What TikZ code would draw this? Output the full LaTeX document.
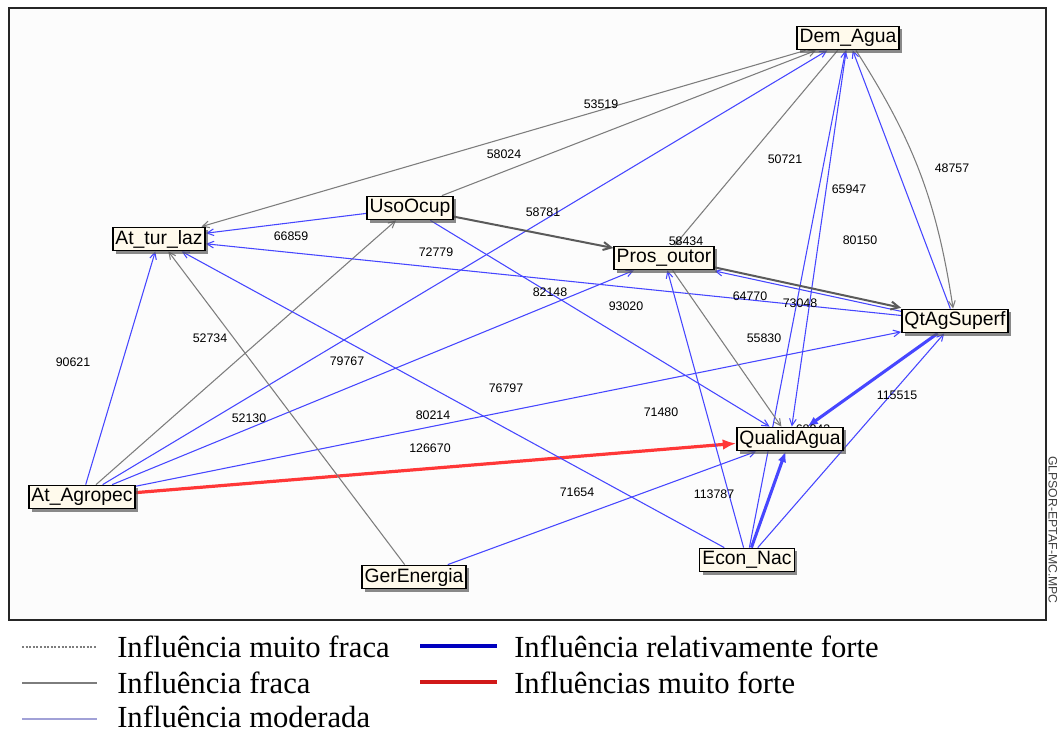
\documentclass[tikz,border=0pt]{standalone}
\usepackage{fontspec}
\setmainfont{Liberation Serif}
\setsansfont{Liberation Sans}
\usetikzlibrary{arrows.meta}
\usetikzlibrary{shadows}

\pgfdeclarelayer{back}
\pgfdeclarelayer{edges}
\pgfsetlayers{back,edges,main}

\definecolor{cream}{RGB}{255,250,236}
\definecolor{azul}{RGB}{70,70,255}
\definecolor{cinza}{RGB}{125,125,125}
\definecolor{cinzaesc}{RGB}{90,90,90}
\definecolor{verm}{RGB}{255,55,55}

\tikzset{
  var/.style={draw=black,line width=1.1pt,fill=cream,font=\sffamily\fontsize{14.5}{15}\selectfont,
    inner xsep=2pt,inner ysep=0pt,minimum height=17.5pt,
    drop shadow={shadow xshift=2.2pt,shadow yshift=-2.2pt,fill=black!65,opacity=.7}},
  peso/.style={font=\sffamily\fontsize{9.3}{10}\selectfont,inner sep=0pt},
  fraca/.style={draw=cinza,line width=0.8pt,-{Straight Barb[length=5pt,width=5pt]}},
  fracaesc/.style={draw=cinzaesc,line width=1.5pt,-{Straight Barb[length=6pt,width=6pt]}},
  moderada/.style={draw=azul,line width=0.8pt,-{Straight Barb[length=5pt,width=5pt]}},
  forte/.style={draw=azul,line width=2.3pt,-{Latex[length=8pt,width=6.5pt]}},
  muitoforte/.style={draw=verm,line width=2.4pt,-{Latex[length=10pt,width=8pt]}},
  legtxt/.style={font=\fontsize{23}{24}\selectfont,anchor=base west,inner sep=0pt}
}

\begin{document}
\begin{tikzpicture}[x=0.75pt,y=-0.75pt]
\useasboundingbox (0,0) rectangle (1058,733);

% variaveis
\node[var] (DA) at (848,38) {Dem\_Agua};
\node[var] (AT) at (159,239) {At\_tur\_laz};
\node[var] (UO) at (410,208) {UsoOcup};
\node[var] (PO) at (664,258) {Pros\_outor};
\node[var] (QS) at (955,321) {QtAgSuperf};
\node[var] (QA) at (790,439) {QualidAgua};
\node[var] (AG) at (82,497) {At\_Agropec};
\node[var] (GE) at (414,577) {GerEnergia};
\node[var] (EN) at (747,560) {Econ\_Nac};

\begin{pgfonlayer}{back}
\fill[white] (0,0) rectangle (1058,733);
\draw[black!85,line width=1.2pt,fill=black!1] (9,8) rectangle (1046,620);
\end{pgfonlayer}

\begin{pgfonlayer}{edges}
\draw[fraca] (DA) -- (AT); %53519
\draw[fraca] (UO) -- (DA); %58024
\draw[moderada] (AG) -- (DA);
\draw[fraca] (DA) -- (PO); %50721
\draw[moderada] (EN) -- (DA); %65947
\draw[moderada] (DA) -- (QA); %80150
\draw[moderada] (QS) -- (DA);
\draw[fraca] (DA) to[bend left=12] (QS); %48757
\draw[moderada] (UO) -- (AT); %66859
\draw[fracaesc] (UO) -- (PO); %58781
\draw[moderada] (UO) -- (QA); %93020
\draw[fraca] (AG) -- (UO);
\draw[moderada] (AG) -- (AT); %90621
\draw[moderada] (AG) -- (PO);
\draw[moderada] (AG) -- (QS);
\draw[muitoforte] (AG) -- (QA); %126670
\draw[fraca] (GE) -- (AT); %52734
\draw[moderada] (GE) -- (QA); %71654
\draw[moderada] (EN) -- (AT);
\draw[moderada] (EN) -- (PO); %113787
\draw[forte] (EN) -- (QA);
\draw[moderada] (EN) -- (QS); %115515
\draw[forte] (QS) -- (QA);
\draw[moderada] (QS) -- (AT); %64770
\draw[moderada,transform canvas={yshift=-1.5pt}] (QS) -- (PO); %73048
\draw[fracaesc,transform canvas={yshift=1.2pt}] (PO) -- (QS);
\draw[fraca] (PO) -- (QA); %55830

% pesos
\foreach \v/\x/\y in {53519/601/104, 58024/504/154, 58781/543/212, 66859/291/236,
  72779/436/252, 50721/785/159, 65947/849/189, 48757/952/168, 80150/860/240,
  58434/686/241, 82148/550/292, 93020/626/306, 64770/750/296, 73048/800/303,
  55830/764/338, 90621/73/362, 52734/210/338, 79767/347/361, 76797/506/388,
  52130/249/418, 80214/433/415, 126670/430/448, 71480/661/412, 71654/577/492,
  113787/714/494, 115515/897/395, 68843/813/429}
  \node[peso] (w\v) at (\x,\y) {\v};
\end{pgfonlayer}

\node[font=\sffamily\fontsize{9.2}{10}\selectfont,text=black!75,rotate=-90,anchor=base,inner sep=0pt] (marca) at (1048.5,530) {GLPSOR-EPTAF-MC.MPC};

% legenda
\coordinate (l1a) at (22,647); \coordinate (l1b) at (97,647);
\coordinate (l2a) at (22,683); \coordinate (l2b) at (97,683);
\coordinate (l3a) at (22,719); \coordinate (l3b) at (97,719);
\coordinate (l4a) at (420,646); \coordinate (l4b) at (497,646);
\coordinate (l5a) at (420,682); \coordinate (l5b) at (497,682);
\draw[cinza,line width=0.9pt,dash pattern=on 1.5pt off 1.2pt] (l1a) -- (l1b);
\draw[cinza,line width=2.2pt] (l2a) -- (l2b);
\draw[black!35!azul!45!white,line width=1.6pt] (l3a) -- (l3b);
\draw[blue!75!black,line width=3pt] (l4a) -- (l4b);
\draw[red!80!black!90,line width=3pt] (l5a) -- (l5b);
\node[legtxt] (t1) at (117,657) {Influência muito fraca};
\node[legtxt] (t2) at (117,693) {Influência fraca};
\node[legtxt] (t3) at (117,727) {Influência moderada};
\node[legtxt] (t4) at (514,657) {Influência relativamente forte};
\node[legtxt] (t5) at (514,693) {Influências muito forte};
\end{tikzpicture}
\end{document}
